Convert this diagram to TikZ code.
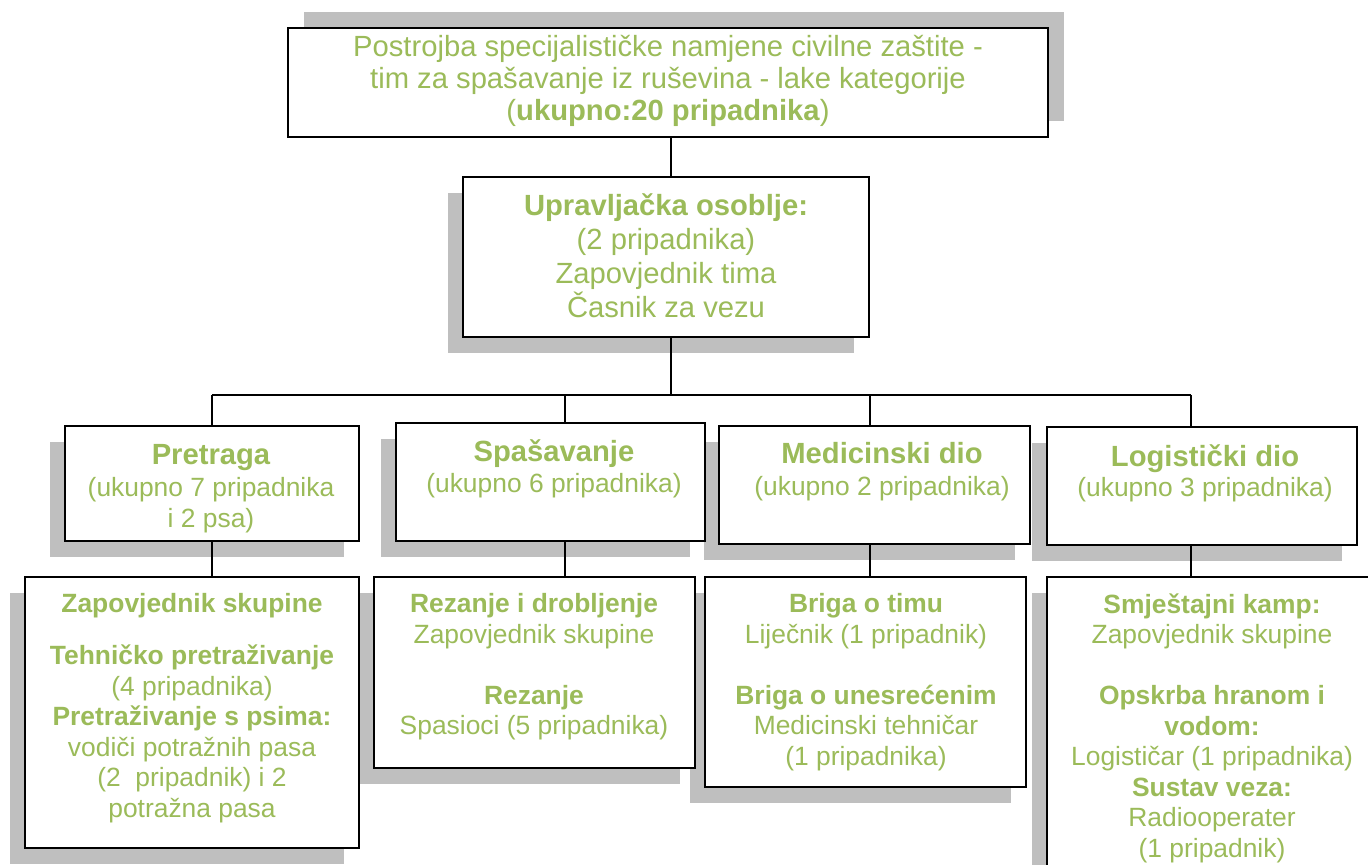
\documentclass[tikz,border=0pt]{standalone}
\usepackage{fontspec}
\setmainfont{Liberation Sans}
\usetikzlibrary{fit,shadows}
\definecolor{leaf}{RGB}{155,187,89}
\definecolor{shadowgray}{RGB}{191,191,191}
\newcommand{\headtxt}[1]{{\fontsize{14.6}{16}\selectfont\bfseries #1}}

\begin{document}
\begin{tikzpicture}[x=0.5pt,y=-0.5pt]
\tikzstyle{every node}=[font=\fontsize{13.2}{15.25}\selectfont]
\tikzstyle{box}=[draw=black, line width=1pt, fill=white, inner sep=0pt,
  drop shadow={shadow xshift=-7.75pt, shadow yshift=-8pt, opacity=1, fill=shadowgray}]
\tikzstyle{topbox}=[draw=black, line width=1pt, fill=white, inner sep=0pt,
  drop shadow={shadow xshift=8pt, shadow yshift=8pt, opacity=1, fill=shadowgray}]
\tikzstyle{txt}=[text=leaf, align=center, inner sep=0pt, anchor=north]
\tikzstyle{link}=[draw=black, line width=0.7pt]
\clip (0,0) rectangle (1368,865);
\fill[white] (0,0) rectangle (1368,865);

    \node[topbox, fit={(288,28) (1048,137)}] (top) {};
    \node[box, fit={(463,177) (869,337)}] (upr) {};

    % right to left, so every shadow slides under its left neighbour
    \node[box, fit={(1047,427) (1357,545)}] (logist) {};
    \node[box, fit={(719,426) (1030,544)}] (medic) {};
    \node[box, fit={(396,423) (705,541)}] (spas) {};
    \node[box, fit={(65,426) (359,541)}] (pretraga) {};

    \node[box, fit={(1047,577) (1380,900)}] (logistS) {};
    \node[box, fit={(705,577) (1026,787)}] (medicS) {};
    \node[box, fit={(374,577) (695,768)}] (spasS) {};
    \node[box, fit={(25,577) (359,848)}] (pretragaS) {};

    \node[txt, font=\fontsize{14.6}{16}\selectfont] (topT) at (668,35)
      {Postrojba specijalističke namjene civilne zaštite -\\tim za spašavanje iz ruševina - lake kategorije\\(\textbf{ukupno:20 pripadnika})};
    \node[txt, font=\fontsize{14.6}{17}\selectfont] (uprT) at (666,193)
      {\textbf{Upravljačka osoblje:}\\(2 pripadnika)\\Zapovjednik tima\\Časnik za vezu};

    \node[txt] (pretragaT) at (211,444) {\headtxt{Pretraga}\\[1pt](ukupno 7 pripadnika\\i 2 psa)};
    \node[txt] (spasT) at (554,439) {\headtxt{Spašavanje}\\[0.5pt](ukupno 6 pripadnika)};
    \node[txt] (medicT) at (882,442) {\headtxt{Medicinski dio}\\[0.5pt](ukupno 2 pripadnika)};
    \node[txt] (logistT) at (1205,444) {\headtxt{Logistički dio}\\[0pt](ukupno 3 pripadnika)};

    \node[txt] (pretragaST) at (192,593) {\textbf{Zapovjednik skupine}\\[10.75pt]\textbf{Tehničko pretraživanje}\\(4 pripadnika)\\\textbf{Pretraživanje s psima:}\\vodiči potražnih pasa\\(2\ \ pripadnik) i 2\\potražna pasa};
    \node[txt] (spasST) at (534,593) {\textbf{Rezanje i drobljenje}\\Zapovjednik skupine\\[15.25pt]\textbf{Rezanje}\\Spasioci (5 pripadnika)};
    \node[txt] (medicST) at (866,593) {\textbf{Briga o timu}\\Liječnik (1 pripadnik)\\[15.25pt]\textbf{Briga o unesrećenim}\\Medicinski tehničar\\(1 pripadnika)};
    \node[txt] (logistST) at (1212,593) {\textbf{Smještajni kamp:}\\Zapovjednik skupine\\[15.25pt]\textbf{Opskrba hranom i}\\\textbf{vodom:}\\Logističar (1 pripadnika)\\\textbf{Sustav veza:}\\Radiooperater\\(1 pripadnik)};

    \coordinate (bus) at (671,395);
    \coordinate (c1) at (212,395);
    \coordinate (c2) at (565,395);
    \coordinate (c3) at (870,395);
    \coordinate (c4) at (1191,395);

    \draw[link] (top.south -| bus) -- (upr.north -| bus);
    \draw[link] (upr.south -| bus) -- (bus);
    \draw[link] (c1) -- (c4);
    \foreach \c/\a/\b in {c1/pretraga/pretragaS, c2/spas/spasS, c3/medic/medicS, c4/logist/logistS} {
      \draw[link] (\c) -- (\c |- \a.north);
      \draw[link] (\c |- \a.south) -- (\c |- \b.north);
    }
\end{tikzpicture}
\end{document}
